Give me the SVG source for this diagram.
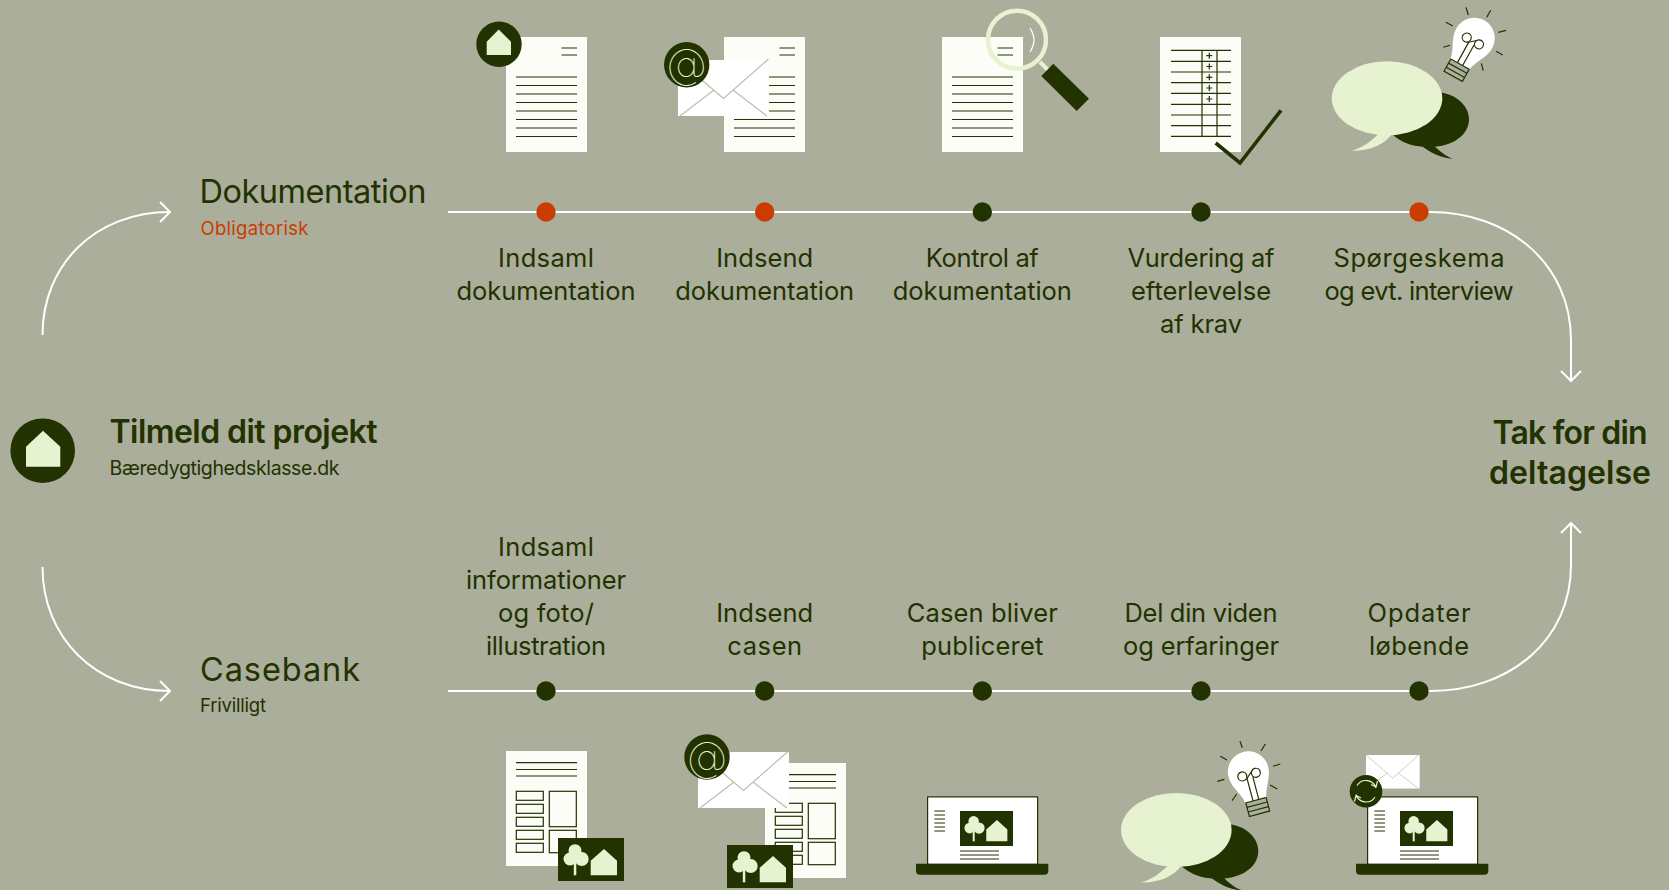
<svg xmlns="http://www.w3.org/2000/svg" xmlns:xlink="http://www.w3.org/1999/xlink" width="1669" height="890" viewBox="0 0 1669 890">
<style>
text{font-family:"Inter","Liberation Sans",sans-serif;fill:#223200}
.lb{font-size:25.5px;text-anchor:middle}
.ti{font-size:32.5px}
.bd{font-size:32px;font-weight:600}
.sm{font-size:18.5px}
.conn{fill:none;stroke:#fff;stroke-width:2}
.paper{fill:#fbfdf6}
.ln{stroke:#223200;stroke-width:1.2;fill:none}
.env{fill:#fff}
.fl{fill:none;stroke:#bdbcae;stroke-width:1.2}
.dk{fill:#223200}
.lt{fill:#e6f2d0}
.red{fill:#cb3c00}
.ray{stroke:#223200;stroke-width:1.2}
</style>
<defs>
<g id="lines"><path class="ln" d="M10 40H71M10 48.5H71M10 57H71M10 65.5H71M10 74H71M10 82.5H71M10 91H71M10 99.5H71"/></g>
<g id="shorts"><path class="ln" d="M55.5 11H71M55.5 18H71"/></g>
<g id="textdoc"><rect class="paper" width="81" height="115"/><use href="#lines"/><use href="#shorts"/></g>
<g id="layout"><rect class="paper" width="81" height="115"/>
<path class="ln" d="M10 11.7H71M10 18.5H71M10 25H71"/>
<g class="ln"><rect x="10.3" y="40.3" width="27" height="9"/><rect x="10.3" y="53.3" width="27" height="9"/><rect x="10.3" y="66.3" width="27" height="9"/><rect x="10.3" y="79.3" width="27" height="9"/><rect x="10.3" y="92.3" width="27" height="9"/><rect x="43.3" y="40.3" width="27" height="35.4"/><rect x="43.3" y="79.3" width="27" height="22.4"/></g></g>
<g id="envelope"><rect class="env" width="91" height="56"/><path class="fl" d="M0 0L45.5 38.5L90.5-1M2 56L36 30M55 30L89 56"/></g>
<g id="photo"><rect class="dk" width="66" height="43"/><g class="lt"><rect x="15.8" y="14" width="2.5" height="23.3"/><circle cx="17" cy="12.7" r="6.5"/><circle cx="12" cy="21" r="6.5"/><circle cx="23.7" cy="21" r="7"/><circle cx="17" cy="19" r="6"/><path d="M32.7 37.3V22.7L46 11L59 22.7V37.3Z"/></g></g>
<g id="at"><circle class="dk" r="22.7"/><text x="0" y="13.5" text-anchor="middle" style="font-size:41px;font-weight:100;fill:#e6f2d0">@</text></g>
<g id="speech"><path class="dk" d="M1393 135C1402 143 1412 146 1422.7 146.7C1430 152 1440 158 1453 158.7C1445 156 1440 151 1435 146.7C1455 145 1469 134 1469 119C1469 105 1455 94 1441 92.7L1400 110Z"/><ellipse class="lt" cx="1387" cy="98.3" rx="55.3" ry="37"/><path class="lt" d="M1378 134.5C1370 142 1362 148 1352 150.7C1370 151 1384 145 1393 133Z"/></g>
<g id="bulb"><path d="M-11 30C-11.5 20-20.5 12-20.5 0A20.5 20.5 0 1 1 20.5 0C20.5 12 11.5 20 11 30Z" fill="#fff"/>
<g class="ln"><circle cx="-7" cy="3" r="4.5"/><circle cx="7" cy="3" r="4.5"/><path d="M-3 6V30M3 6V30M-4 7L4 0"/><rect x="-10.5" y="29.5" width="21" height="14" fill="#aaae9b"/><path d="M-10.5 34.2H10.5M-10.5 38.9H10.5"/></g></g>
<g id="laptop"><rect x="927.6" y="796.9" width="110" height="67.5" fill="#fff" stroke="#223200" stroke-width="1.2"/><path class="dk" d="M916 863.7H1048.3V870.7A4 4 0 0 1 1044.3 874.7H920A4 4 0 0 1 916 870.7Z"/><use href="#photo" transform="translate(960 811) scale(.803 .814)"/><path class="ln" d="M934.3 811H945M934.3 815H945M934.3 819H945M934.3 823H945M934.3 827H945M934.3 831H945M960 851H999M960 855H999M960 859H999"/></g>
</defs>
<rect width="1669" height="890" fill="#aaae9b"/>
<g id="connectors">
<path class="conn" d="M448 212H1430C1510 212 1571 265 1571 340V381"/>
<path class="conn" d="M1561 371L1571 381L1581 371"/>
<path class="conn" d="M448 691H1430C1510 691 1571 640 1571 565V523"/>
<path class="conn" d="M1561 533L1571 523L1581 533"/>
<path class="conn" d="M42.5 335C42.5 265 95 212 170 212"/>
<path class="conn" d="M160 202L170 212L160 222"/>
<path class="conn" d="M42.5 567C42.5 637 95 691 170 691"/>
<path class="conn" d="M160 681L170 691L160 701"/>
</g>
<g id="start"><circle class="dk" cx="42.7" cy="450.7" r="32.3"/><path class="lt" d="M26 466.7V446.7L43 430.7L60.3 446.7V466.7Z"/><text class="bd" x="109.5" y="443" textLength="268">Tilmeld dit projekt</text><text x="109.5" y="475" textLength="230" style="font-size:19.5px">Bæredygtighedsklasse.dk</text></g>
<g id="end"><text class="bd" x="1570" y="443.5" text-anchor="middle" textLength="155">Tak for din</text><text class="bd" x="1570" y="483.5" text-anchor="middle" textLength="162">deltagelse</text></g>
<g id="dokumentation"><text class="ti" x="199.5" y="203" textLength="227">Dokumentation</text><text class="sm" x="200.5" y="235" textLength="108" style="fill:#cb3c00">Obligatorisk</text></g>
<g id="casebank"><text class="ti" x="200" y="681" textLength="160">Casebank</text><text class="sm" x="200" y="712" textLength="66">Frivilligt</text></g>

<g id="n1"><circle class="red" cx="546" cy="212" r="9.7"/><use href="#textdoc" x="506" y="37"/><circle class="dk" cx="499" cy="44.3" r="22.7"/><path class="lt" d="M486.7 55V41.7L498.7 29.5L511 41.7V55Z"/><text class="lb" x="546" y="267" textLength="96">Indsaml</text><text class="lb" x="546" y="300" textLength="179">dokumentation</text></g>
<g id="n2"><circle class="red" cx="764.7" cy="212" r="9.7"/><use href="#textdoc" x="724" y="37"/><use href="#envelope" x="678" y="60"/><use href="#at" x="686.7" y="64.7"/><text class="lb" x="764.7" y="267" textLength="97">Indsend</text><text class="lb" x="764.7" y="300" textLength="179">dokumentation</text></g>
<g id="n3"><circle class="dk" cx="982.3" cy="212" r="9.7"/><use href="#textdoc" x="942" y="37"/><path d="M1040 62L1048 70" stroke="#e6f2d0" stroke-width="4"/><circle cx="1017" cy="39.7" r="29" fill="none" stroke="#e6f2d0" stroke-width="4.5"/><path d="M1030 28Q1038 40 1030 52" fill="none" stroke="#fff" stroke-width="1.2"/><path class="dk" d="M1053.3 63.7L1089 98.7L1076.7 111L1041.3 76Z"/><text class="lb" x="982.3" y="267" textLength="113">Kontrol af</text><text class="lb" x="982.3" y="300" textLength="179">dokumentation</text></g>
<g id="n4"><circle class="dk" cx="1201" cy="212" r="9.7"/><rect class="paper" x="1160" y="37" width="81" height="115"/><path class="ln" d="M1171 50.4H1231M1171 61.3H1231M1171 72H1231M1171 82.7H1231M1171 93.4H1231M1171 104.3H1231M1171 115H1231M1171 125.7H1231M1171 136.4H1231M1202 50V136.4M1217 50V136.4M1206.3 55.7H1212.3M1209.3 52.7V58.7M1206.3 66.5H1212.3M1209.3 63.5V69.5M1206.3 77.3H1212.3M1209.3 74.3V80.3M1206.3 88H1212.3M1209.3 85V91M1206.3 99H1212.3M1209.3 96V102"/><path d="M1215.7 143L1240 163L1281 110.3" fill="none" stroke="#223200" stroke-width="3.6"/><text class="lb" x="1201" y="267" textLength="147">Vurdering af</text><text class="lb" x="1201" y="300" textLength="140">efterlevelse</text><text class="lb" x="1201" y="333" textLength="82">af krav</text></g>
<g id="n5"><circle class="red" cx="1419" cy="212" r="9.7"/><use href="#speech"/><use href="#bulb" transform="translate(1474.3 38.3) rotate(29)"/><path class="ray" d="M1466 7.3L1468.3 15M1490.7 10.3L1486.7 17.3M1506 30.3L1498.3 32.3M1502.7 55L1496 51.3M1483.3 70.7L1481.3 63.3M1446 22.3L1452.7 26M1443.3 47.3L1450 45.3"/><text class="lb" x="1419" y="267" textLength="171">Spørgeskema</text><text class="lb" x="1419" y="300" textLength="189">og evt. interview</text></g>

<g id="n6"><circle class="dk" cx="546" cy="691" r="9.7"/><use href="#layout" x="506" y="751"/><use href="#photo" x="558" y="838"/><text class="lb" x="546" y="556" textLength="96">Indsaml</text><text class="lb" x="546" y="589" textLength="160">informationer</text><text class="lb" x="546" y="622" textLength="96">og foto/</text><text class="lb" x="546" y="655" textLength="120">illustration</text></g>
<g id="n7"><circle class="dk" cx="764.7" cy="691" r="9.7"/><use href="#layout" x="765" y="763"/><use href="#envelope" x="698" y="752"/><use href="#at" x="707" y="757"/><use href="#photo" x="727" y="845"/><text class="lb" x="764.7" y="622" textLength="97">Indsend</text><text class="lb" x="764.7" y="655" textLength="75">casen</text></g>
<g id="n8"><circle class="dk" cx="982.3" cy="691" r="9.7"/><use href="#laptop"/><text class="lb" x="982.3" y="622" textLength="151">Casen bliver</text><text class="lb" x="982.3" y="655" textLength="122">publiceret</text></g>
<g id="n9"><circle class="dk" cx="1201" cy="691" r="9.7"/><use href="#speech" transform="translate(-210.7 731.7)"/><use href="#bulb" transform="translate(1248.3 771.7) rotate(-15)"/><path class="ray" d="M1240 741.3L1242.3 747.7M1265.3 744L1261 751M1280.3 764L1273 766.3M1277.3 789L1270 785M1232 800.7L1236.7 794M1220.3 756.3L1227 760M1217.3 781.3L1224.3 779.3"/><text class="lb" x="1201" y="622" textLength="153">Del din viden</text><text class="lb" x="1201" y="655" textLength="156">og erfaringer</text></g>
<g id="n10"><circle class="dk" cx="1419" cy="691" r="9.7"/><use href="#envelope" transform="translate(1366 755) scale(.59 .6)"/><use href="#laptop" x="440"/><circle class="dk" cx="1366" cy="791.3" r="16.3"/><path d="M1357 785.5A10.5 10.5 0 0 1 1376 788M1376 787L1377.5 781M1376 787L1371 784.5M1375 797A10.5 10.5 0 0 1 1356 794.5M1356 795.5L1354.5 801.5M1356 795.5L1361 798" fill="none" stroke="#e6f2d0" stroke-width="1.2"/><text class="lb" x="1419" y="622" textLength="103">Opdater</text><text class="lb" x="1419" y="655" textLength="100">løbende</text></g>
</svg>
